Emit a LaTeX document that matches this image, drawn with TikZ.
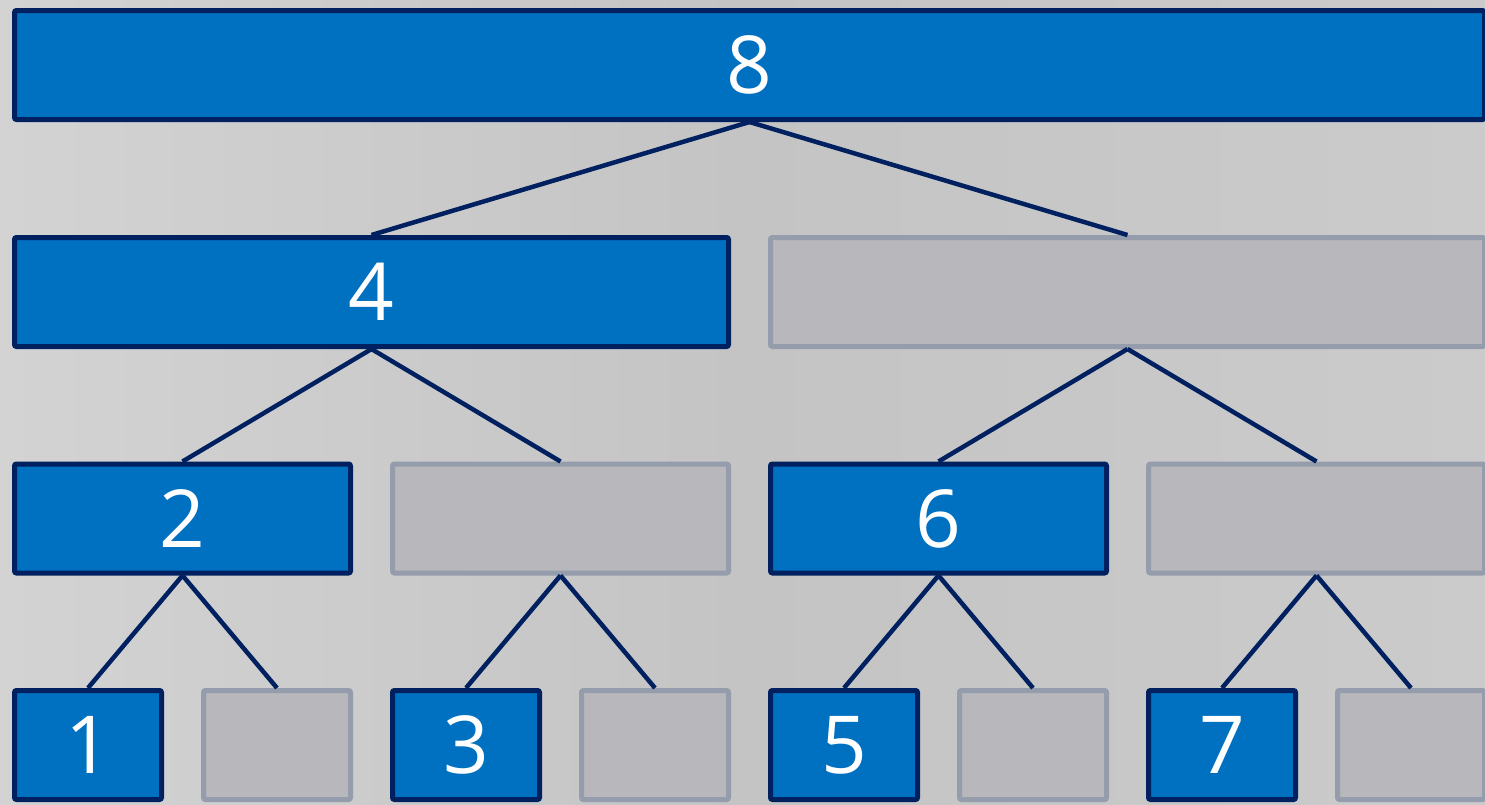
\documentclass[tikz,border=0pt]{standalone}
\usepackage{fontspec}
\setmainfont{Open Sans}
\definecolor{navy}{HTML}{002060}
\definecolor{blu}{HTML}{0070C0}
\definecolor{gfill}{HTML}{B7B7BC}
\definecolor{gdraw}{HTML}{959CAB}
\definecolor{bgl}{HTML}{D3D3D3}
\definecolor{bgm}{HTML}{C4C4C4}
\definecolor{bgr}{HTML}{CBCBCB}
\begin{document}
\begin{tikzpicture}[x=1pt,y=-1pt,
  bluebox/.style={draw=navy,fill=blu,line width=5pt,rounded corners=2pt,minimum height=109pt,inner sep=0pt,text=white,font=\fontsize{80}{80}\selectfont},
  graybox/.style={draw=gdraw,fill=gfill,line width=5pt,rounded corners=2pt,minimum height=109pt,inner sep=0pt},
  w0/.style={minimum width=1470pt},
  w1/.style={minimum width=714pt},
  w2/.style={minimum width=336pt},
  w3/.style={minimum width=147pt},
  link/.style={draw=navy,line width=4.5pt}]
\useasboundingbox (0,0) rectangle (1485,804);
\shade[left color=bgl,right color=bgr,middle color=bgm,shading angle=90] (0,0) rectangle (1485,804);
% row 0
\node[bluebox,w0] (n8) at (749.5,65) {8};
% row 1
\node[bluebox,w1] (n4) at (371.5,292) {4};
\node[graybox,w1] (g12) at (1127.5,292) {};
% row 2
\node[bluebox,w2] (n2) at (182.5,518.5) {2};
\node[graybox,w2] (g6a) at (560.5,518.5) {};
\node[bluebox,w2] (n6) at (938.5,518.5) {6};
\node[graybox,w2] (g14) at (1316.5,518.5) {};
% row 3
\node[bluebox,w3] (n1) at (88,745) {1};
\node[graybox,w3] (g1) at (277,745) {};
\node[bluebox,w3] (n3) at (466,745) {3};
\node[graybox,w3] (g3) at (655,745) {};
\node[bluebox,w3] (n5) at (844,745) {5};
\node[graybox,w3] (g5) at (1033,745) {};
\node[bluebox,w3] (n7) at (1222,745) {7};
\node[graybox,w3] (g7) at (1411,745) {};
% links
\draw[link] (n8.south) -- (n4.north);
\draw[link] (n8.south) -- (g12.north);
\draw[link] (n4.south) -- (n2.north);
\draw[link] (n4.south) -- (g6a.north);
\draw[link] (g12.south) -- (n6.north);
\draw[link] (g12.south) -- (g14.north);
\draw[link] (n2.south) -- (n1.north);
\draw[link] (n2.south) -- (g1.north);
\draw[link] (g6a.south) -- (n3.north);
\draw[link] (g6a.south) -- (g3.north);
\draw[link] (n6.south) -- (n5.north);
\draw[link] (n6.south) -- (g5.north);
\draw[link] (g14.south) -- (n7.north);
\draw[link] (g14.south) -- (g7.north);
\end{tikzpicture}
\end{document}
